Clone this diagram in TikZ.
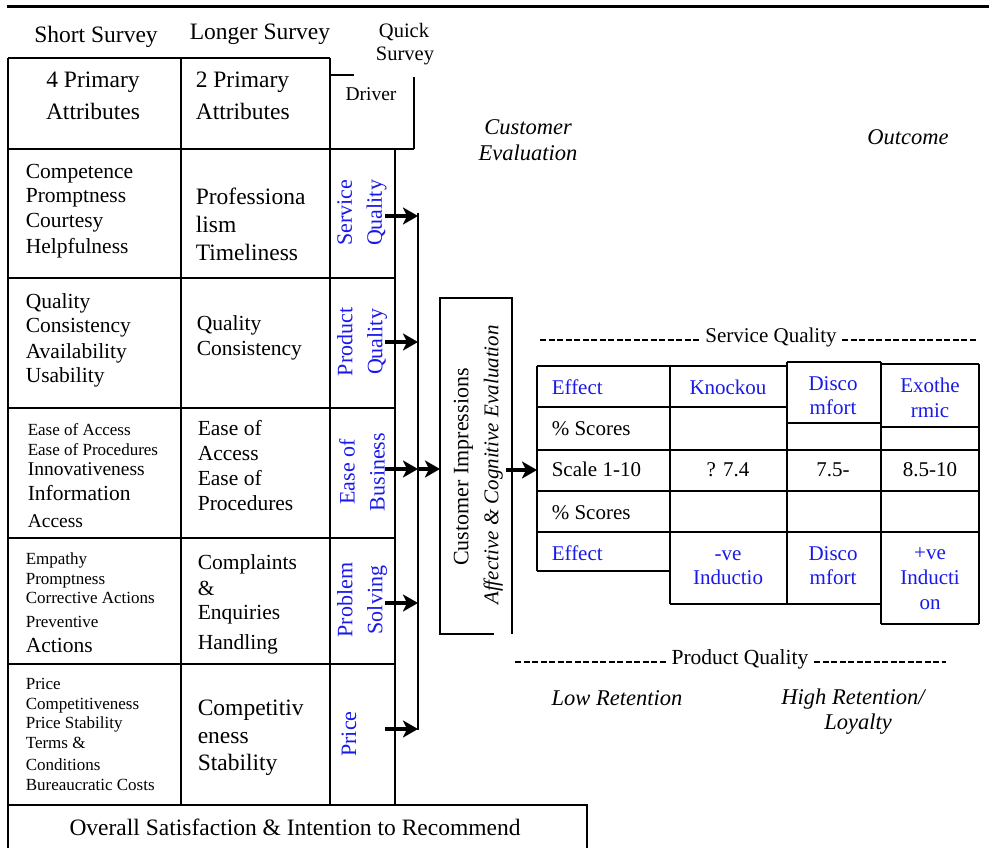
\documentclass[tikz,border=0pt]{standalone}
\usepackage{fontspec}
\setmainfont{Liberation Serif}
\usetikzlibrary{arrows.meta}
\definecolor{lblue}{RGB}{25,25,235}
\begin{document}
\begin{tikzpicture}[x=1pt,y=-1pt,line width=1.6pt,
  every node/.style={inner sep=0pt},
  dn/.style={yshift=-5pt},
  lt/.style={dn,anchor=mid west,font=\fontsize{21.5}{25}\selectfont},
  lb/.style={dn,anchor=mid west,font=\fontsize{23.5}{28}\selectfont},
  ls/.style={dn,anchor=mid west,font=\fontsize{17}{20}\selectfont},
  ct/.style={dn,anchor=mid,font=\fontsize{21}{25}\selectfont},
  cb/.style={dn,anchor=mid,font=\fontsize{23.5}{28}\selectfont},
  rt/.style={dn,anchor=mid west,font=\fontsize{21}{25}\selectfont},
  bl/.style={text=lblue},
  vl/.style={rotate=90,align=center,text=lblue,font=\fontsize{22}{30}\selectfont},
  itx/.style={dn,anchor=mid,font=\fontsize{22.5}{26}\selectfont\itshape},
  arr/.style={line width=3.2pt,-{Stealth[length=15pt,width=17pt,inset=4pt]}},
  dl/.style={dash pattern=on 6pt off 2.5pt,line width=1.2pt}
]
\useasboundingbox (0,0) rectangle (989,848);

% top rule
\draw[line width=3pt] (7,7) -- (989,7);

% headers
\node[cb] (hshort) at (96,35) {Short Survey};
\node[cb] (hlong) at (260,32) {Longer Survey};
\node[dn,anchor=mid,font=\fontsize{20.5}{24}\selectfont] (hquick1) at (404,30) {Quick};
\node[dn,anchor=mid,font=\fontsize{20.5}{24}\selectfont] (hquick2) at (405,53) {Survey};

% left table grid
\draw (8,58) -- (330,58);
\draw (8,149) -- (414,149);
\draw (8,278) -- (395,278);
\draw (8,408) -- (395,408);
\draw (8,538) -- (395,538);
\draw (8,664) -- (395,664);
\draw (8,805) -- (587,805) -- (587,852);
\draw (8,58) -- (8,852);
\draw (181,58) -- (181,805);
\draw (330,58) -- (330,805);
\draw (395,149) -- (395,805);
% driver cell
\draw (330,75) -- (354,75);
\draw (414,77) -- (414,149);

% header row texts
\node[cb] (p4a) at (93,80) {4 Primary};
\node[cb] (p4b) at (93,112) {Attributes};
\node[lb] (p2a) at (195,80) {2 Primary};
\node[lb] (p2b) at (195,112) {Attributes};
\node[dn,anchor=mid,font=\fontsize{19.5}{24}\selectfont] (drv) at (371,93) {Driver};

% row 1
\node[lt] (r1a) at (25,171) {Competence};
\node[lt] (r1b) at (25,195) {Promptness};
\node[lt] (r1c) at (25,220) {Courtesy};
\node[lt] (r1d) at (25,246) {Helpfulness};
\node[lb] (r1e) at (195,197) {Professiona};
\node[lb] (r1f) at (195,225) {lism};
\node[lb] (r1g) at (195,253) {Timeliness};
% row 2
\node[lt] (r2a) at (25,301) {Quality};
\node[lt] (r2b) at (25,325) {Consistency};
\node[lt] (r2c) at (25,351) {Availability};
\node[lt] (r2d) at (25,375) {Usability};
\node[lt] (r2e) at (196,323) {Quality};
\node[lt] (r2f) at (196,348) {Consistency};
% row 3
\node[ls] (r3a) at (27,428) {Ease of Access};
\node[ls] (r3b) at (27,448) {Ease of Procedures};
\node[dn,anchor=mid west,font=\fontsize{19.5}{23}\selectfont] (r3c) at (27,468) {Innovativeness};
\node[lt] (r3d) at (27,493) {Information};
\node[dn,anchor=mid west,font=\fontsize{19.5}{23}\selectfont] (r3e) at (27,520) {Access};
\node[lt] (r3f) at (197,428) {Ease of};
\node[lt] (r3g) at (197,453) {Access};
\node[lt] (r3h) at (197,478) {Ease of};
\node[lt] (r3i) at (197,503) {Procedures};
% row 4
\node[ls] (r4a) at (25,557) {Empathy};
\node[ls] (r4b) at (25,577) {Promptness};
\node[ls] (r4c) at (25,596) {Corrective Actions};
\node[ls] (r4d) at (25,620) {Preventive};
\node[lt] (r4e) at (25,645) {Actions};
\node[lt] (r4f) at (197,562) {Complaints};
\node[lt] (r4g) at (197,588) {\&};
\node[lt] (r4h) at (197,612) {Enquiries};
\node[lt] (r4i) at (197,642) {Handling};
% row 5
\node[ls] (r5a) at (25,682) {Price};
\node[ls] (r5b) at (25,702) {Competitiveness};
\node[ls] (r5c) at (25,721) {Price Stability};
\node[ls] (r5d) at (25,741) {Terms \&};
\node[ls] (r5e) at (25,763) {Conditions};
\node[ls] (r5f) at (25,783) {Bureaucratic Costs};
\node[lb] (r5g) at (197,708) {Competitiv};
\node[lb] (r5h) at (197,736) {eness};
\node[lb] (r5i) at (197,763) {Stability};

% overall
\node[cb] (overall) at (295,828) {Overall Satisfaction \& Intention to Recommend};

% vertical driver labels
\node[vl] (dsq) at (362,213) {Service\\Quality};
\node[vl] (dpq) at (362,342) {Product\\Quality};
\node[vl] (deb) at (362,472) {Ease of\\Business};
\node[vl] (dps) at (362,600) {Problem\\Solving};
\node[vl] (dpr) at (349,734) {Price};

% bus and arrows
\coordinate (s1) at (385,216); \coordinate (e1) at (418,216);
\coordinate (s2) at (385,342); \coordinate (e2) at (418,342);
\coordinate (s3) at (385,469); \coordinate (e3) at (418,469);
\coordinate (s4) at (385,603); \coordinate (e4) at (418,603);
\coordinate (s5) at (385,729); \coordinate (e5) at (418,729);
\coordinate (bustop) at (418,213); \coordinate (busbot) at (418,730);
\draw (bustop) -- (busbot);
\draw[arr] (s1) -- (e1);
\draw[arr] (s2) -- (e2);
\draw[arr] (s3) -- (e3);
\draw[arr] (s4) -- (e4);
\draw[arr] (s5) -- (e5);

% customer impressions box
\coordinate (cbl) at (440,634); \coordinate (cbtl) at (440,298);
\coordinate (cbtr) at (512,298); \coordinate (cbbr) at (512,634);
\coordinate (cbgap) at (494,634);
\draw (cbgap) -- (cbl) -- (cbtl) -- (cbtr) -- (cbbr);
\node[rotate=90,anchor=mid,font=\fontsize{22}{26}\selectfont] (ci1) at (466,467) {Customer Impressions};
\node[rotate=90,anchor=mid,font=\fontsize{21}{26}\selectfont\itshape] (ci2) at (496,465) {Affective \& Cognitive Evaluation};
\coordinate (cin) at (440,469);
\coordinate (cout) at (506,470);
\coordinate (tin) at (537,470);
\draw[arr] (e3) -- (cin);
\draw[arr] (cout) -- (tin);

% titles
\node[itx] (ce1) at (528,127) {Customer};
\node[itx] (ce2) at (528,153) {Evaluation};
\node[itx] (outc) at (908,137) {Outcome};

% Service quality header
\node[dn,anchor=mid,font=\fontsize{21}{25}\selectfont] (sqt) at (771,335) {Service Quality};
\coordinate (sql) at (540,337); \coordinate (sqr) at (976,337);
\draw[dl] (sqt.mid west -| sql) -- ([xshift=-5pt]sqt.mid west);
\draw[dl] ([xshift=5pt]sqt.mid east) -- (sqt.mid east -| sqr);

% right table grid
\draw (537,366) -- (787,366);
\draw (787,362) -- (881,362);
\draw (881,364) -- (979,364);
\draw (537,407) -- (787,407);
\draw (787,423) -- (881,423);
\draw (881,427) -- (979,427);
\draw (537,450) -- (979,450);
\draw (537,491) -- (979,491);
\draw (537,532) -- (979,532);
\draw (537,571) -- (670,571);
\draw (670,604) -- (881,604);
\draw (881,624) -- (979,624);
\draw (537,366) -- (537,571);
\draw (670,366) -- (670,604);
\draw (787,362) -- (787,604);
\draw (881,362) -- (881,624);
\draw (979,364) -- (979,624);

% right table texts
\node[rt,bl] (t11) at (551,387) {Effect};
\node[ct,bl] (t12) at (728,387) {Knockou};
\node[ct,bl] (t13a) at (833,383) {Disco};
\node[ct,bl] (t13b) at (833,407) {mfort};
\node[ct,bl] (t14a) at (930,385) {Exothe};
\node[ct,bl] (t14b) at (930,410) {rmic};
\node[rt] (t21) at (551,428) {\% Scores};
\node[rt] (t31) at (551,469) {Scale 1-10};
\node[ct] (t32) at (728,469) {? 7.4};
\node[ct] (t33) at (833,469) {7.5-};
\node[ct] (t34) at (930,469) {8.5-10};
\node[rt] (t41) at (551,512) {\% Scores};
\node[rt,bl] (t51) at (551,553) {Effect};
\node[ct,bl] (t52a) at (728,553) {-ve};
\node[ct,bl] (t52b) at (728,577) {Inductio};
\node[ct,bl] (t53a) at (833,553) {Disco};
\node[ct,bl] (t53b) at (833,577) {mfort};
\node[ct,bl] (t54a) at (930,552) {+ve};
\node[ct,bl] (t54b) at (930,577) {Inducti};
\node[ct,bl] (t54c) at (930,602) {on};

% Product quality header
\node[dn,anchor=mid,font=\fontsize{21.5}{25}\selectfont] (pqt) at (740,657) {Product Quality};
\coordinate (pql) at (515,659); \coordinate (pqr) at (946,659);
\draw[dl] (pqt.mid west -| pql) -- ([xshift=-5pt]pqt.mid west);
\draw[dl] ([xshift=5pt]pqt.mid east) -- (pqt.mid east -| pqr);

% outcomes
\node[itx] (lowr) at (617,698) {Low Retention};
\node[itx] (highr) at (853,697) {High Retention/};
\node[itx] (loyal) at (858,722) {Loyalty};
\end{tikzpicture}
\end{document}
